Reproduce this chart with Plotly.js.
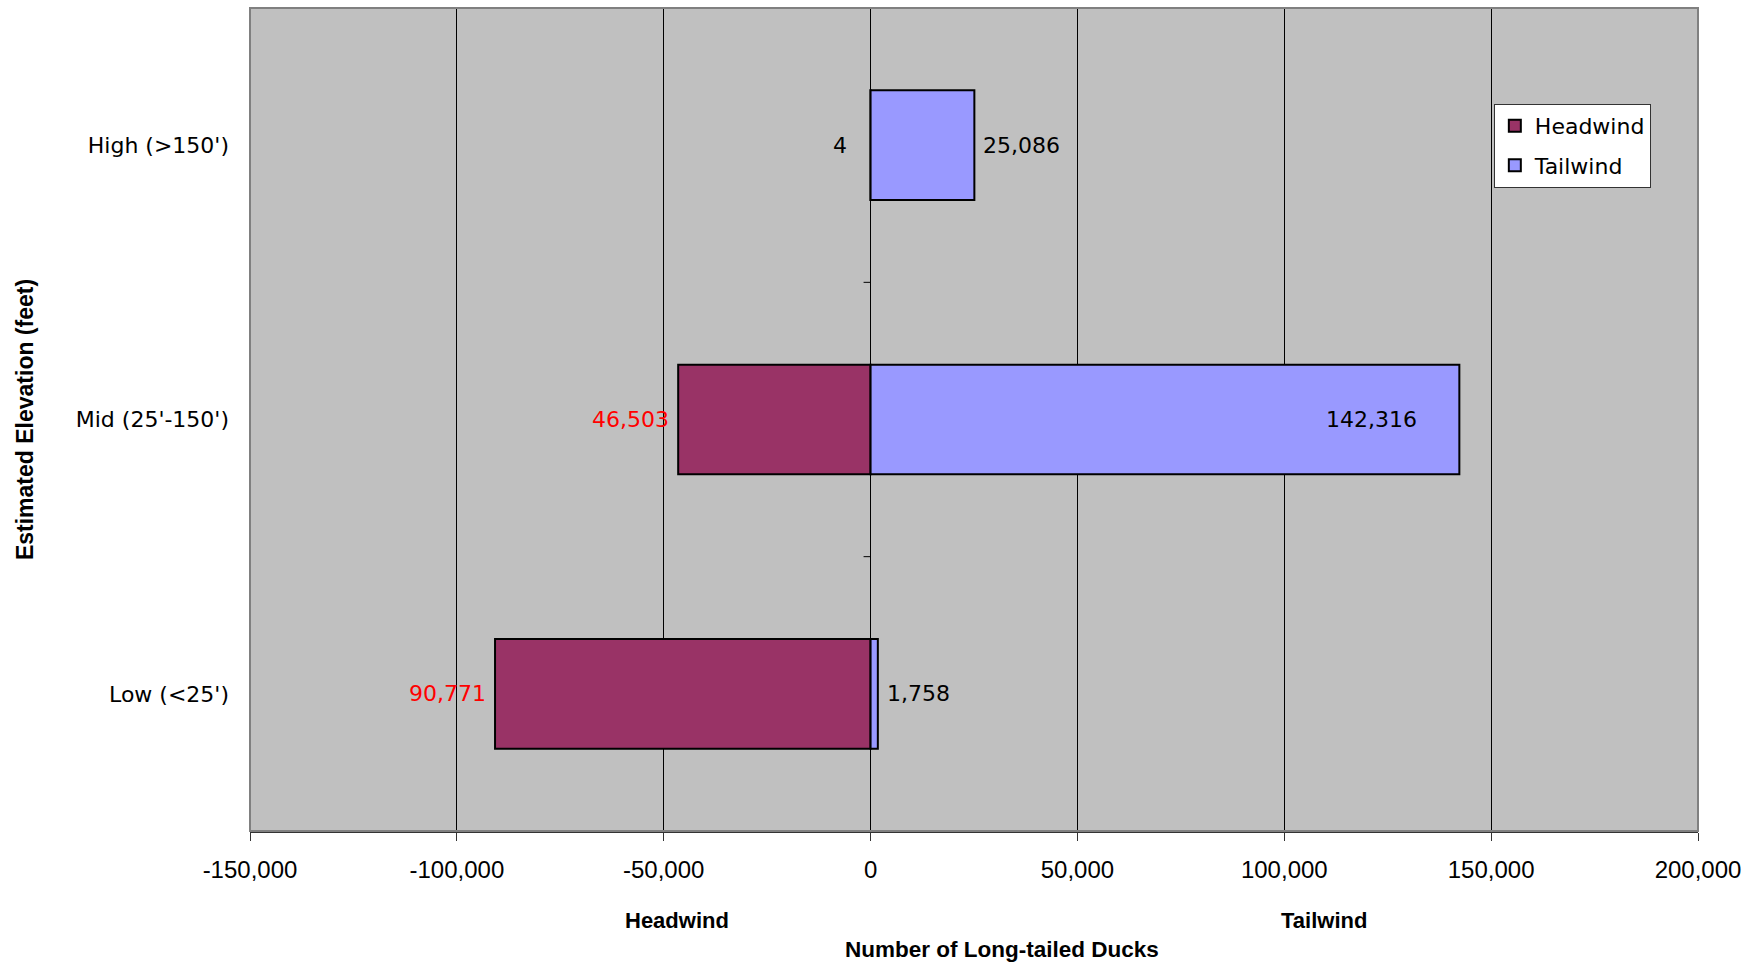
<!DOCTYPE html>
<html>
<head>
<meta charset="utf-8">
<script src="https://cdn.plot.ly/plotly-3.0.1.min.js"></script>
<style>html,body{margin:0;padding:0;background:#fff;}#chart{width:1762px;height:965px;}</style>
</head>
<body>
<div id="chart"></div>
<script>
// ---- data ----
const categories = ["Low (<25')", "Mid (25'-150')", "High (>150')"];
const headwind = [-90771, -46503, -4];
const tailwind = [1758, 142316, 25086];
const xTickValues = [-150000, -100000, -50000, 0, 50000, 100000, 150000, 200000];
const seriesNames = ["Headwind", "Tailwind"];
const sideLabels = ["Headwind", "Tailwind"];
const xTitle = "Number of Long-tailed Ducks";
const yTitle = "Estimated Elevation (feet)";

// ---- styles ----
const headColor = '#993366';
const tailColor = '#9999FF';
const headLabelColors = ['#FF0000', '#FF0000', '#000000'];
const headLabelShift = [-7, -7, -22];
const tailLabelAnchor = ['left', 'right', 'left'];
const tailLabelShift = [7, -40, 7];
const labelFont = 'DejaVu Sans, sans-serif';
const boldFont = 'Liberation Sans, Arial, sans-serif';
const fmt = v => Math.abs(v).toLocaleString('en-US');

const traces = [
  {type: 'bar', orientation: 'h', name: seriesNames[0], y: categories, x: headwind,
   legendgroup: 'h', marker: {color: headColor, line: {color: '#000', width: 2}}, hoverinfo: 'x'},
  {type: 'bar', orientation: 'h', name: seriesNames[1], y: categories, x: tailwind,
   legendgroup: 't', marker: {color: tailColor, line: {color: '#000', width: 2}}, hoverinfo: 'x'}
];

const annotations = [];
categories.forEach((c, i) => {
  annotations.push({x: headwind[i], y: c, xref: 'x', yref: 'y', text: fmt(headwind[i]),
    showarrow: false, xanchor: 'right', yanchor: 'middle', xshift: headLabelShift[i],
    font: {family: labelFont, size: 22, color: headLabelColors[i]}});
  annotations.push({x: tailwind[i], y: c, xref: 'x', yref: 'y', text: fmt(tailwind[i]),
    showarrow: false, xanchor: tailLabelAnchor[i], yanchor: 'middle', xshift: tailLabelShift[i],
    font: {family: labelFont, size: 22, color: '#000'}});
});
const sideX = [0.295, 0.742];
sideLabels.forEach((t, i) => {
  annotations.push({x: sideX[i], y: 0, xref: 'paper', yref: 'paper', text: '<b>' + t + '</b>',
    showarrow: false, xanchor: 'center', yanchor: 'middle', yshift: -89.5,
    font: {family: boldFont, size: 22, color: '#000'}});
});
annotations.push({x: 0.519, y: 0, xref: 'paper', yref: 'paper', text: '<b>' + xTitle + '</b>',
  showarrow: false, xanchor: 'center', yanchor: 'middle', yshift: -118,
  font: {family: boldFont, size: 22.5, color: '#000'}});

const shapes = [
  {type: 'rect', xref: 'paper', yref: 'paper', x0: 0, x1: 1, y0: 0, y1: 1,
   line: {color: '#808080', width: 2}, layer: 'above'}
];
for (let i = 1; i < categories.length; i++) {
  shapes.push({type: 'line', xref: 'x', yref: 'y', xsizemode: 'pixel', xanchor: 0,
    x0: -7, x1: 0, y0: i - 0.5, y1: i - 0.5, line: {color: '#000', width: 1}});
}

const layout = {
  width: 1762, height: 965,
  margin: {l: 249.5, r: 64, t: 8, b: 133.5},
  paper_bgcolor: '#FFFFFF', plot_bgcolor: '#C0C0C0',
  barmode: 'relative', bargap: 0.6,
  showlegend: true,
  legend: {x: 0.859, y: 0.8834, xanchor: 'left', yanchor: 'top', bgcolor: '#FFFFFF',
    bordercolor: '#333', borderwidth: 1, traceorder: 'grouped', tracegroupgap: 8,
    font: {family: labelFont, size: 22, color: '#000'}},
  xaxis: {range: [-150000, 200000], tickvals: xTickValues,
    ticktext: xTickValues.map(v => v.toLocaleString('en-US')),
    showgrid: true, gridcolor: '#000', gridwidth: 1,
    zeroline: true, zerolinecolor: '#000', zerolinewidth: 1,
    showline: true, linecolor: '#333', linewidth: 2,
    ticks: 'outside', ticklen: 8, tickcolor: '#333', tickwidth: 1, ticklabelstandoff: 8,
    tickfont: {family: boldFont, size: 24, color: '#000'},
    fixedrange: true},
  yaxis: {type: 'category', categoryarray: categories, showgrid: false, zeroline: false,
    showline: false, ticks: '', ticklabelstandoff: 20,
    tickfont: {family: labelFont, size: 22, color: '#000'},
    title: {text: '<b>' + yTitle + '</b>', standoff: 35,
      font: {family: boldFont, size: 23, color: '#000'}},
    fixedrange: true},
  annotations: annotations,
  shapes: shapes
};

Plotly.newPlot('chart', traces, layout, {displayModeBar: false, staticPlot: true});
</script>
</body>
</html>
